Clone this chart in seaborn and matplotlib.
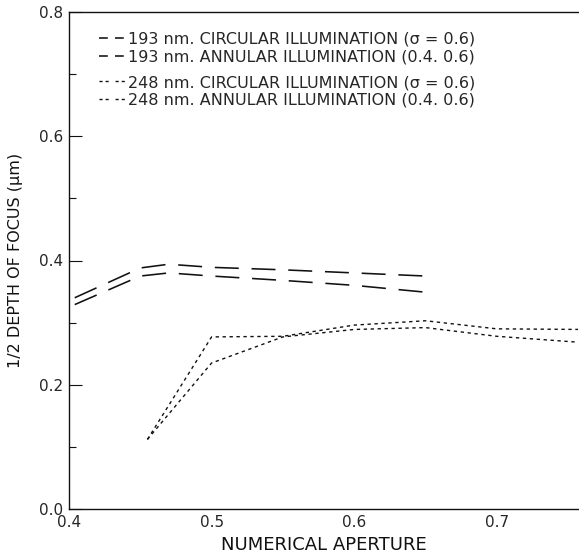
import matplotlib
matplotlib.use("Agg")
import matplotlib.pyplot as plt
from matplotlib.lines import Line2D
import numpy as np
import pandas as pd
import seaborn as sns

# ---- data ----
na_193 = [0.404, 0.45, 0.47, 0.50, 0.55, 0.60, 0.65]
dof_193_upper = [0.340, 0.388, 0.394, 0.389, 0.385, 0.380, 0.375]
dof_193_lower = [0.329, 0.375, 0.380, 0.375, 0.368, 0.360, 0.349]

na_248 = [0.455, 0.50, 0.55, 0.60, 0.65, 0.70, 0.76]
dof_248_a = [0.112, 0.277, 0.278, 0.296, 0.303, 0.290, 0.289]
dof_248_b = [0.112, 0.235, 0.277, 0.289, 0.292, 0.278, 0.268]

legend_193 = ["193 nm. CIRCULAR ILLUMINATION (σ = 0.6)",
              "193 nm. ANNULAR ILLUMINATION (0.4. 0.6)"]
legend_248 = ["248 nm. CIRCULAR ILLUMINATION (σ = 0.6)",
              "248 nm. ANNULAR ILLUMINATION (0.4. 0.6)"]

x_ticks = [0.4, 0.5, 0.6, 0.7]
y_ticks = [0.0, 0.2, 0.4, 0.6, 0.8]
y_minor = [0.1, 0.3, 0.5, 0.7]

sns.set_theme(style="white")
plt.rcParams["font.family"] = ["DejaVu Sans"]

fig = plt.figure(figsize=(5.79, 5.60), dpi=100)
ax = fig.add_axes([69/579, 1 - 509/560, (578 - 69)/579, (509 - 12)/560])

ink = "#111111"
long_dash = (15, 8)
short_dash = (2.4, 2.6)

sns.lineplot(x=na_193, y=dof_193_upper, ax=ax, color=ink, lw=1.15,
             dashes=long_dash, sort=False)
sns.lineplot(x=na_193, y=dof_193_lower, ax=ax, color=ink, lw=1.15,
             dashes=long_dash, sort=False)
sns.lineplot(x=na_248, y=dof_248_a, ax=ax, color=ink, lw=1.0,
             dashes=short_dash, sort=False)
sns.lineplot(x=na_248, y=dof_248_b, ax=ax, color=ink, lw=1.0,
             dashes=short_dash, sort=False)

ax.set_xlim(0.4, 0.757)
ax.set_ylim(0.0, 0.8)
ax.set_xticks(x_ticks)
ax.set_xticklabels([f"{v:.1f}" for v in x_ticks], fontsize=11)
ax.set_yticks(y_ticks)
ax.set_yticklabels([f"{v:.1f}" for v in y_ticks], fontsize=11)
ax.set_yticks(y_minor, minor=True)
ax.tick_params(axis="y", which="major", direction="in", length=9, width=0.8,
               color=ink, pad=4, left=True)
ax.tick_params(axis="y", which="minor", direction="in", length=5, width=0.8,
               color=ink, left=True)
ax.tick_params(axis="x", length=0, pad=4)

for side in ["left", "bottom", "top"]:
    ax.spines[side].set_visible(True)
    ax.spines[side].set_color(ink)
    ax.spines[side].set_linewidth(1.0)
ax.spines["right"].set_visible(False)

ax.set_xlabel("NUMERICAL APERTURE", fontsize=13, labelpad=5, color=ink)
ax.set_ylabel("1/2 DEPTH OF FOCUS (μm)", fontsize=11.5, labelpad=12, color=ink)

h193 = [Line2D([], [], color=ink, lw=1.15, dashes=(5.5, 4.5)) for _ in range(2)]
h248 = [Line2D([], [], color=ink, lw=1.0, dashes=(2.2, 2.2, 2.2, 5.0)) for _ in range(2)]

leg_kw = dict(frameon=False, fontsize=11.5, handlelength=1.6, handletextpad=0.2,
              labelspacing=0.15, borderpad=0, borderaxespad=0,
              loc="upper left")
leg1 = ax.legend(h193, legend_193, bbox_to_anchor=(30/509, 1 - 20/497), **leg_kw)
ax.add_artist(leg1)
leg2 = ax.legend(h248, legend_248, bbox_to_anchor=(30/509, 1 - 63/497), **leg_kw)

fig.savefig("out.png", dpi=100)
